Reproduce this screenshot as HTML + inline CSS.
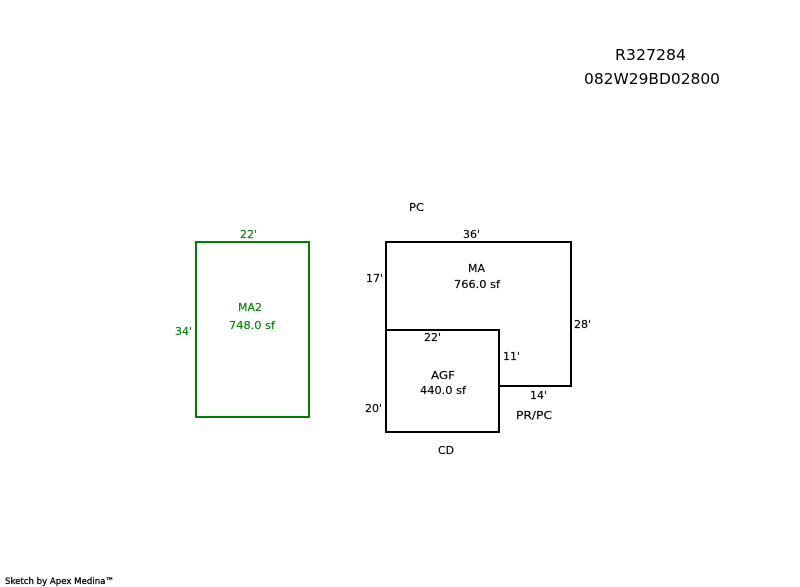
<!DOCTYPE html>
<html>
<head>
<meta charset="utf-8">
<style>
html,body{margin:0;padding:0;background:#fff;}
svg{display:block;}
text{font-family:"DejaVu Sans","Liberation Sans",sans-serif;font-size:11px;fill:#000;stroke:#000;stroke-width:.15px;}
.g text{fill:#008000;stroke:#008000;}
text.h{font-size:15px;stroke-width:0;}
text.f{font-size:9px;stroke-width:.3px;}
</style>
</head>
<body>
<svg width="800" height="587" viewBox="0 0 800 587" xmlns="http://www.w3.org/2000/svg">
<rect width="800" height="587" fill="#fff"/>
<text class="h" x="615" y="60" textLength="71" lengthAdjust="spacingAndGlyphs">R327284</text>
<text class="h" x="584" y="84" textLength="136" lengthAdjust="spacingAndGlyphs">082W29BD02800</text>

<g class="g">
<rect x="196" y="242" width="113" height="175" fill="none" stroke="#008000" stroke-width="2"/>
<text x="240" y="238" textLength="17" lengthAdjust="spacingAndGlyphs">22'</text>
<text x="238" y="311" textLength="24" lengthAdjust="spacingAndGlyphs">MA2</text>
<text x="229" y="329" textLength="46" lengthAdjust="spacingAndGlyphs">748.0 sf</text>
<text x="175" y="335" textLength="17" lengthAdjust="spacingAndGlyphs">34'</text>
</g>

<path d="M386 330V242H571V386H499" fill="none" stroke="#000" stroke-width="2"/>
<rect x="386" y="330" width="113" height="102" fill="none" stroke="#000" stroke-width="2"/>

<text x="409" y="211" textLength="15" lengthAdjust="spacingAndGlyphs">PC</text>
<text x="463" y="238" textLength="17" lengthAdjust="spacingAndGlyphs">36'</text>
<text x="468" y="272" textLength="17" lengthAdjust="spacingAndGlyphs">MA</text>
<text x="454" y="288" textLength="46" lengthAdjust="spacingAndGlyphs">766.0 sf</text>
<text x="366" y="282" textLength="17" lengthAdjust="spacingAndGlyphs">17'</text>
<text x="424" y="341" textLength="17" lengthAdjust="spacingAndGlyphs">22'</text>
<text x="574" y="328" textLength="17" lengthAdjust="spacingAndGlyphs">28'</text>
<text x="503" y="360" textLength="17" lengthAdjust="spacingAndGlyphs">11'</text>
<text x="431" y="379" textLength="24" lengthAdjust="spacingAndGlyphs">AGF</text>
<text x="420" y="394" textLength="46" lengthAdjust="spacingAndGlyphs">440.0 sf</text>
<text x="530" y="399" textLength="17" lengthAdjust="spacingAndGlyphs">14'</text>
<text x="365" y="412" textLength="17" lengthAdjust="spacingAndGlyphs">20'</text>
<text x="516" y="419" textLength="36" lengthAdjust="spacingAndGlyphs">PR/PC</text>
<text x="438" y="454" textLength="16" lengthAdjust="spacingAndGlyphs">CD</text>

<text class="f" x="5" y="584" textLength="109" lengthAdjust="spacingAndGlyphs">Sketch by Apex Medina™</text>
</svg>
</body>
</html>
